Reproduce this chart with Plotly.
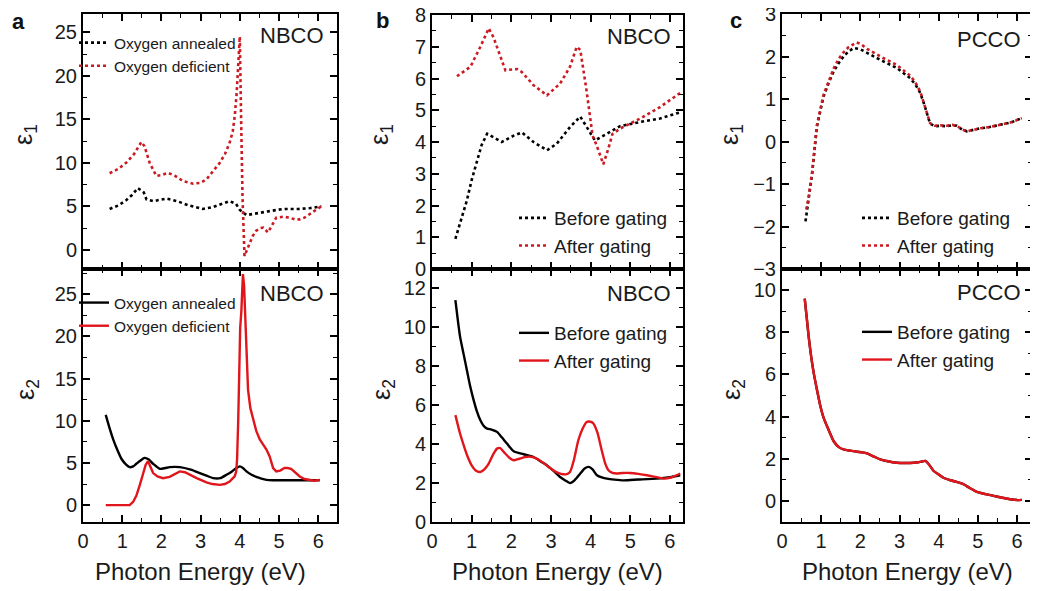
import plotly.graph_objects as go

W, H = 1038, 591
OFF = 8  # page offset of the figure inside the browser window
FW, FH = W - OFF, H - OFF

# ---------------- data ----------------
# Panel a (NBCO, oxygen annealed vs deficient)
a_e1_ann_E = [0.68, 0.9, 1.1, 1.25, 1.40, 1.55, 1.62, 1.8, 2.13, 2.4, 2.7, 3.06, 3.3, 3.55, 3.74, 3.9, 4.0, 4.17, 4.4, 4.7, 5.1, 5.5, 5.8, 6.08]
a_e1_ann = [4.7, 5.1, 5.7, 6.3, 7.1, 6.6, 5.8, 5.6, 5.9, 5.6, 5.1, 4.7, 4.9, 5.3, 5.6, 5.3, 4.6, 4.0, 4.2, 4.4, 4.7, 4.7, 4.8, 5.0]

a_e1_def_E = [0.68, 0.9, 1.1, 1.3, 1.49, 1.57, 1.7, 1.87, 2.0, 2.17, 2.35, 2.55, 2.81, 3.0, 3.15, 3.3, 3.49, 3.62, 3.74, 3.82, 3.87, 3.92, 3.95, 3.98, 4.0, 4.03, 4.07, 4.12, 4.18, 4.25, 4.33, 4.42, 4.52, 4.6, 4.72, 4.82, 4.93, 5.1, 5.27, 5.4, 5.53, 5.65, 5.78, 5.92, 6.08]
a_e1_def = [8.8, 9.3, 10.0, 11.0, 12.4, 11.9, 10.0, 8.5, 8.6, 8.85, 8.5, 7.9, 7.6, 7.7, 8.1, 8.9, 10.0, 11.0, 12.3, 13.6, 15.3, 18.0, 21.0, 23.5, 24.5, 16.0, 6.0, -0.7, 0.0, 0.85, 1.6, 2.2, 2.5, 2.55, 2.0, 2.8, 3.7, 3.8, 3.7, 3.5, 3.5, 3.7, 4.1, 4.5, 5.0]

a_e2_ann_E = [0.58, 0.68, 0.77, 0.88, 0.98, 1.1, 1.19, 1.28, 1.36, 1.47, 1.57, 1.68, 1.79, 1.96, 2.1, 2.21, 2.47, 2.75, 2.98, 3.15, 3.32, 3.5, 3.66, 3.8, 3.91, 4.0, 4.08, 4.17, 4.3, 4.42, 4.55, 4.68, 4.85, 5.1, 5.5, 6.04]
a_e2_ann = [10.7, 9.1, 7.8, 6.5, 5.5, 4.8, 4.5, 4.6, 4.9, 5.3, 5.6, 5.4, 4.9, 4.3, 4.4, 4.5, 4.5, 4.2, 3.8, 3.5, 3.2, 3.2, 3.6, 4.0, 4.4, 4.6, 4.4, 4.0, 3.6, 3.35, 3.15, 3.0, 2.95, 2.95, 2.95, 2.95]

a_e2_def_E = [0.58, 0.9, 1.19, 1.28, 1.36, 1.45, 1.53, 1.6, 1.66, 1.72, 1.79, 1.9, 2.04, 2.21, 2.35, 2.47, 2.6, 2.72, 2.9, 3.15, 3.3, 3.49, 3.62, 3.74, 3.82, 3.87, 3.91, 3.93, 3.96, 3.98, 4.01, 4.04, 4.08, 4.11, 4.15, 4.18, 4.21, 4.27, 4.34, 4.42, 4.51, 4.6, 4.68, 4.76, 4.85, 4.93, 5.03, 5.14, 5.22, 5.31, 5.42, 5.53, 5.65, 5.78, 5.9, 6.04]
a_e2_def = [0, 0, 0, 0.4, 1.1, 2.4, 3.8, 4.8, 5.2, 4.6, 3.8, 3.4, 3.2, 3.35, 3.7, 4.0, 3.9, 3.6, 3.2, 2.7, 2.5, 2.4, 2.5, 2.8, 3.1, 3.4, 4.0, 5.4, 10.0, 17.0, 21.0, 23.0, 27.4, 26.0, 21.0, 17.0, 13.7, 11.5, 10.1, 8.8, 7.8, 7.2, 6.6, 5.8, 4.4, 4.0, 4.1, 4.4, 4.4, 4.3, 3.9, 3.4, 3.1, 2.95, 2.9, 3.0]

# Panel b (NBCO, before vs after gating)
b_e1_bef_E = [0.59, 0.75, 0.88, 1.0, 1.13, 1.25, 1.39, 1.55, 1.76, 2.06, 2.27, 2.56, 2.9, 3.15, 3.48, 3.74, 3.9, 4.11, 4.41, 4.74, 5.25, 5.75, 6.3]
b_e1_bef = [0.95, 1.6, 2.16, 2.8, 3.4, 3.9, 4.26, 4.15, 4.0, 4.2, 4.3, 4.0, 3.74, 3.95, 4.47, 4.8, 4.47, 4.05, 4.26, 4.5, 4.63, 4.74, 4.95]

b_e1_aft_E = [0.63, 0.97, 1.22, 1.43, 1.55, 1.7, 1.85, 2.14, 2.27, 2.56, 2.9, 3.23, 3.48, 3.65, 3.74, 3.9, 4.05, 4.15, 4.32, 4.45, 4.55, 4.74, 5.25, 5.75, 6.3]
b_e1_aft = [6.07, 6.37, 7.0, 7.58, 7.3, 6.8, 6.26, 6.3, 6.2, 5.79, 5.47, 5.84, 6.37, 7.0, 6.9, 5.6, 4.2, 3.9, 3.3, 3.8, 4.25, 4.42, 4.74, 5.1, 5.58]

b_e2_bef_E = [0.59, 0.65, 0.71, 0.8, 0.88, 0.96, 1.05, 1.13, 1.22, 1.3, 1.39, 1.5, 1.64, 1.76, 1.89, 2.06, 2.31, 2.56, 2.75, 2.9, 3.05, 3.23, 3.35, 3.48, 3.6, 3.74, 3.85, 3.95, 4.05, 4.16, 4.3, 4.41, 4.6, 4.83, 5.2, 5.67, 6.0, 6.26]
b_e2_bef = [11.4, 10.4, 9.5, 8.6, 7.8, 7.0, 6.26, 5.7, 5.23, 4.95, 4.8, 4.75, 4.63, 4.35, 4.03, 3.63, 3.48, 3.34, 3.1, 2.91, 2.65, 2.31, 2.15, 2.0, 2.15, 2.49, 2.75, 2.83, 2.7, 2.4, 2.28, 2.23, 2.18, 2.14, 2.18, 2.23, 2.3, 2.4]

b_e2_aft_E = [0.59, 0.7, 0.8, 0.9, 1.0, 1.1, 1.22, 1.32, 1.43, 1.55, 1.64, 1.72, 1.81, 1.95, 2.06, 2.2, 2.35, 2.5, 2.64, 2.8, 2.94, 3.1, 3.23, 3.38, 3.48, 3.58, 3.69, 3.8, 3.9, 4.0, 4.07, 4.17, 4.28, 4.37, 4.45, 4.55, 4.66, 4.8, 5.0, 5.2, 5.42, 5.6, 5.84, 6.05, 6.26]
b_e2_aft = [5.49, 4.6, 3.94, 3.35, 2.91, 2.65, 2.57, 2.7, 3.0, 3.5, 3.77, 3.8, 3.6, 3.3, 3.17, 3.25, 3.34, 3.35, 3.26, 3.05, 2.83, 2.6, 2.49, 2.45, 2.57, 3.2, 4.2, 4.8, 5.14, 5.15, 5.06, 4.6, 3.69, 3.0, 2.66, 2.52, 2.49, 2.52, 2.52, 2.47, 2.4, 2.33, 2.23, 2.3, 2.49]

# Panel c (PCCO, before vs after gating)
c_e1_bef_E = [0.6, 0.68, 0.77, 0.89, 1.06, 1.2, 1.32, 1.45, 1.57, 1.7, 1.83, 2.0, 2.17, 2.51, 2.93, 3.27, 3.4, 3.53, 3.62, 3.7, 3.78, 3.9, 4.04, 4.2, 4.35, 4.46, 4.6, 4.72, 4.85, 5.06, 5.3, 5.57, 5.85, 6.12]
c_e1_bef = [-1.88, -1.35, -0.75, 0.35, 1.06, 1.4, 1.65, 1.85, 2.0, 2.12, 2.2, 2.17, 2.08, 1.92, 1.73, 1.49, 1.35, 1.14, 0.9, 0.67, 0.42, 0.36, 0.37, 0.36, 0.38, 0.37, 0.28, 0.24, 0.27, 0.31, 0.34, 0.39, 0.45, 0.55]

c_e1_aft_E = [0.62, 0.68, 0.77, 0.89, 1.06, 1.2, 1.32, 1.45, 1.57, 1.7, 1.9, 2.0, 2.17, 2.51, 2.93, 3.27, 3.4, 3.53, 3.62, 3.7, 3.78, 3.9, 4.04, 4.2, 4.35, 4.46, 4.6, 4.72, 4.85, 5.06, 5.3, 5.57, 5.85, 6.12]
c_e1_aft = [-1.6, -1.3, -0.72, 0.38, 1.1, 1.45, 1.72, 1.95, 2.1, 2.22, 2.33, 2.3, 2.18, 2.0, 1.8, 1.55, 1.4, 1.17, 0.92, 0.68, 0.43, 0.37, 0.38, 0.37, 0.39, 0.37, 0.28, 0.24, 0.27, 0.31, 0.34, 0.39, 0.45, 0.55]

c_e2_bef_E = [0.58, 0.63, 0.68, 0.74, 0.81, 0.9, 0.98, 1.06, 1.15, 1.24, 1.32, 1.45, 1.57, 1.75, 1.91, 2.05, 2.17, 2.35, 2.51, 2.7, 2.93, 3.15, 3.36, 3.5, 3.6, 3.66, 3.72, 3.8, 3.87, 4.0, 4.12, 4.3, 4.46, 4.6, 4.68, 4.8, 4.97, 5.2, 5.4, 5.6, 5.82, 6.0, 6.12]
c_e2_bef = [9.6, 8.7, 7.8, 6.9, 6.06, 5.2, 4.49, 3.95, 3.54, 3.15, 2.83, 2.55, 2.44, 2.38, 2.33, 2.3, 2.25, 2.1, 1.97, 1.88, 1.81, 1.8, 1.81, 1.84, 1.88, 1.9, 1.8, 1.6, 1.42, 1.25, 1.1, 0.98, 0.9, 0.82, 0.74, 0.6, 0.43, 0.32, 0.24, 0.16, 0.08, 0.04, 0.05]

c_e2_aft_E = [0.58, 0.63, 0.68, 0.74, 0.81, 0.9, 0.98, 1.06, 1.15, 1.24, 1.32, 1.45, 1.57, 1.75, 1.91, 2.05, 2.17, 2.35, 2.51, 2.7, 2.93, 3.15, 3.36, 3.5, 3.6, 3.66, 3.72, 3.8, 3.87, 4.0, 4.12, 4.3, 4.46, 4.6, 4.68, 4.8, 4.97, 5.2, 5.4, 5.6, 5.82, 6.0, 6.12]
c_e2_aft = [9.6, 8.7, 7.8, 6.9, 6.06, 5.2, 4.49, 3.95, 3.54, 3.15, 2.83, 2.55, 2.44, 2.38, 2.33, 2.3, 2.25, 2.1, 1.97, 1.88, 1.81, 1.8, 1.81, 1.84, 1.88, 1.9, 1.8, 1.6, 1.42, 1.25, 1.1, 0.98, 0.9, 0.82, 0.74, 0.6, 0.43, 0.32, 0.24, 0.16, 0.08, 0.04, 0.05]

names_a = ["Oxygen annealed", "Oxygen deficient"]
names_bc = ["Before gating", "After gating"]
panel_letters = ["a", "b", "c"]
materials = ["NBCO", "NBCO", "PCCO"]

# ---------------- style ----------------
FONT = "Liberation Sans, Arial, sans-serif"
BLACK = "#000000"
RED_DOT = "#cc1a22"
RED = "#e0161c"
TXT = "#1a1a1a"


def px(x):
    return (x - OFF) / FW


def py(y):
    return 1 - (y - OFF) / FH


# frame pixel boxes (window pixels): (left, right), top plot (top, bottom), bottom plot (top, bottom)
frames = [
    ((83, 337), (14, 269), (269, 522)),
    ((432, 683), (15, 269), (269, 522)),
    ((782, 1032), (14, 269), (269, 522)),
]
xranges = [[0, 6.48], [0, 6.33], [0, 6.38]]
y1ranges = [[-2.2, 27.1], [0, 8], [-3, 3]]
y2ranges = [[-2, 28], [0, 13], [-1, 11]]
y1dt = [(5, 2.5), (1, 0.5), (1, 0.5)]
y2dt = [(5, 2.5), (2, 1), (2, 1)]

fig = go.Figure()


def add(x, y, name, color, dash, idx, legend, smooth):
    xa = "x" if idx == 1 else f"x{idx}"
    ya = "y" if idx == 1 else f"y{idx}"
    fig.add_trace(go.Scatter(
        x=x, y=y, name=name, mode="lines",
        line=dict(color=color, width=2.6 if dash == "dot" else 2.4, dash=dash,
                  shape="spline" if smooth else "linear", smoothing=0.6),
        xaxis=xa, yaxis=ya, legend=legend,
    ))


# panel a
add(a_e1_ann_E, a_e1_ann, names_a[0], BLACK, "dot", 1, "legend", False)
add(a_e1_def_E, a_e1_def, names_a[1], RED_DOT, "dot", 1, "legend", False)
add(a_e2_ann_E, a_e2_ann, names_a[0], BLACK, "solid", 2, "legend2", True)
add(a_e2_def_E, a_e2_def, names_a[1], RED, "solid", 2, "legend2", False)
# panel b
add(b_e1_bef_E, b_e1_bef, names_bc[0], BLACK, "dot", 3, "legend3", False)
add(b_e1_aft_E, b_e1_aft, names_bc[1], RED_DOT, "dot", 3, "legend3", False)
add(b_e2_bef_E, b_e2_bef, names_bc[0], BLACK, "solid", 4, "legend4", True)
add(b_e2_aft_E, b_e2_aft, names_bc[1], RED, "solid", 4, "legend4", True)
# panel c
add(c_e1_bef_E, c_e1_bef, names_bc[0], BLACK, "dot", 5, "legend5", False)
add(c_e1_aft_E, c_e1_aft, names_bc[1], RED_DOT, "dot", 5, "legend5", False)
add(c_e2_bef_E, c_e2_bef, names_bc[0], BLACK, "solid", 6, "legend6", True)
add(c_e2_aft_E, c_e2_aft, names_bc[1], RED, "solid", 6, "legend6", True)


def axis(domain, rng, dtick, minor_dt, anchor, labels=True):
    return dict(
        domain=domain, range=rng, anchor=anchor, automargin=False,
        showline=True, linewidth=2, linecolor=BLACK, mirror="ticks",
        ticks="inside", ticklen=7, tickwidth=1.6, tickcolor=BLACK,
        tick0=0, dtick=dtick,
        minor=dict(ticks="inside", ticklen=4, tickwidth=1.4, tickcolor=BLACK, dtick=minor_dt, tick0=0, showgrid=False),
        showgrid=False, zeroline=False, showticklabels=labels,
        ticklabeloverflow="allow",
        tickfont=dict(family=FONT, size=20, color=TXT),
        fixedrange=True,
    )


layout = dict(
    template="none",
    width=FW, height=FH, margin=dict(l=0, r=0, t=0, b=0, pad=0),
    paper_bgcolor="white", plot_bgcolor="white",
    font=dict(family=FONT, color=TXT),
    showlegend=True,
)

annotations = []
for i, (xf, yt, yb) in enumerate(frames):
    top_idx = 2 * i + 1
    bot_idx = 2 * i + 2
    xd = [px(xf[0]), px(xf[1])]
    kx_t = "xaxis" if top_idx == 1 else f"xaxis{top_idx}"
    ky_t = "yaxis" if top_idx == 1 else f"yaxis{top_idx}"
    kx_b = f"xaxis{bot_idx}"
    ky_b = f"yaxis{bot_idx}"
    layout[kx_t] = axis(xd, xranges[i], 1, 0.5, f"y{top_idx}" if top_idx > 1 else "y", labels=False)
    layout[ky_t] = axis([py(yt[1]), py(yt[0])], y1ranges[i], y1dt[i][0], y1dt[i][1], f"x{top_idx}" if top_idx > 1 else "x")
    layout[kx_b] = axis(xd, xranges[i], 1, 0.5, f"y{bot_idx}")
    layout[ky_b] = axis([py(yb[1]), py(yb[0])], y2ranges[i], y2dt[i][0], y2dt[i][1], f"x{bot_idx}")

# legends (window pixels of top-left corner)
leg_font_a = 15.5
leg_font_bc = 19
leg_pos = [
    (74, 26, leg_font_a), (74, 286, leg_font_a),
    (514, 199, leg_font_bc), (514, 314, leg_font_bc),
    (857, 199, leg_font_bc), (857, 313, leg_font_bc),
]
for j, (lx, ly, fs) in enumerate(leg_pos):
    key = "legend" if j == 0 else f"legend{j + 1}"
    layout[key] = dict(
        x=px(lx), y=py(ly), xanchor="left", yanchor="top",
        bgcolor="rgba(0,0,0,0)", borderwidth=0,
        font=dict(family=FONT, size=fs, color=TXT),
        tracegroupgap=0, itemwidth=30,
    )

# panel letters
letter_pos = [(18, 22), (382, 20), (736, 20)]
for L, (lx, ly) in zip(panel_letters, letter_pos):
    annotations.append(dict(x=px(lx), y=py(ly), xref="paper", yref="paper", text=f"<b>{L}</b>",
                            showarrow=False, font=dict(family=FONT, size=22, color="#111111"),
                            xanchor="center", yanchor="middle"))

# material labels
mat_pos = [((326, 36), (326, 293)), ((673, 37), (673, 293)), ((1023, 40), (1023, 292))]
for m, (p1, p2) in zip(materials, mat_pos):
    for (mx, my) in (p1, p2):
        annotations.append(dict(x=px(mx), y=py(my), xref="paper", yref="paper", text=m,
                                showarrow=False, font=dict(family=FONT, size=22, color=TXT),
                                xanchor="right", yanchor="middle"))

# y titles
ytitle_x = [25, 381, 731]
for yx in ytitle_x:
    annotations.append(dict(x=px(yx), y=py(135), xref="paper", yref="paper", text="ε<sub>1</sub>",
                            textangle=-90, showarrow=False, font=dict(family=FONT, size=25, color=TXT),
                            xanchor="center", yanchor="middle"))
    annotations.append(dict(x=px(yx + 2), y=py(390), xref="paper", yref="paper", text="ε<sub>2</sub>",
                            textangle=-90, showarrow=False, font=dict(family=FONT, size=25, color=TXT),
                            xanchor="center", yanchor="middle"))

# x titles
xtitle_x = [200, 557, 907]
for xx in xtitle_x:
    annotations.append(dict(x=px(xx), y=py(571), xref="paper", yref="paper", text="Photon Energy (eV)",
                            showarrow=False, font=dict(family=FONT, size=24, color=TXT),
                            xanchor="center", yanchor="middle"))

layout["annotations"] = annotations
fig.update_layout(**layout)

fig.write_html("out.html")
